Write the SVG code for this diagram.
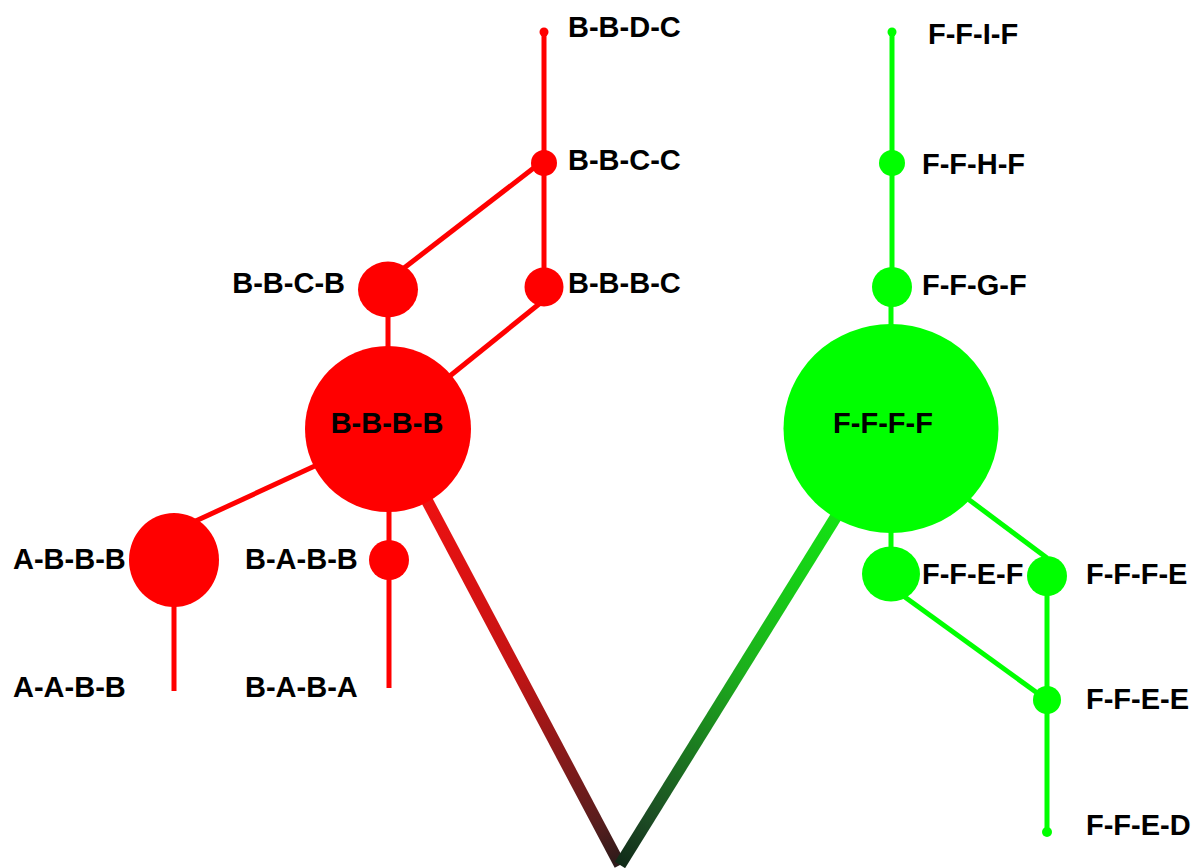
<svg xmlns="http://www.w3.org/2000/svg" width="1192" height="868" viewBox="0 0 1192 868">
  <style>
    .lbl { font-family: "Liberation Sans", Arial, sans-serif; font-weight: bold; font-size: 29px; fill: #000; }
    .mid { text-anchor: middle; }
    .end { text-anchor: end; }
    .r { fill: #ff0000; }
    .g { fill: #00ff00; }
    .er { stroke: #ff0000; stroke-width: 5; fill: none; }
    .eg { stroke: #00ff00; stroke-width: 5; fill: none; }
    .trunk { stroke-width: 12; fill: none; }
  </style>
  <defs>
    <linearGradient id="gradRed" gradientUnits="userSpaceOnUse" x1="388" y1="427" x2="620" y2="865">
      <stop offset="0" stop-color="#ff1010"/>
      <stop offset="0.55" stop-color="#c41414"/>
      <stop offset="0.9" stop-color="#5a1e1e"/>
      <stop offset="1" stop-color="#2a1a1a"/>
    </linearGradient>
    <linearGradient id="gradGreen" gradientUnits="userSpaceOnUse" x1="891" y1="428" x2="620" y2="865">
      <stop offset="0" stop-color="#10ff10"/>
      <stop offset="0.55" stop-color="#1cb01c"/>
      <stop offset="0.9" stop-color="#1c4a24"/>
      <stop offset="1" stop-color="#102a18"/>
    </linearGradient>
  </defs>
  <rect width="1192" height="868" fill="#ffffff"/>

  <g id="connectors">
    <!-- trunks joining the two clusters -->
    <line class="trunk" x1="388" y1="427" x2="620" y2="865" stroke="url(#gradRed)"/>
    <line class="trunk" x1="891" y1="428" x2="620" y2="865" stroke="url(#gradGreen)"/>
    <!-- red cluster -->
    <line class="er" x1="544" y1="32" x2="544" y2="163"/>
    <line class="er" x1="544" y1="163" x2="544" y2="287"/>
    <line class="er" x1="395" y1="275" x2="544" y2="160"/>
    <line class="er" x1="388" y1="289" x2="388" y2="427"/>
    <line class="er" x1="430" y1="392" x2="544" y2="300"/>
    <line class="er" x1="330" y1="459" x2="174" y2="531"/>
    <line class="er" x1="389" y1="427" x2="389" y2="560"/>
    <line class="er" x1="174" y1="560" x2="174" y2="691"/>
    <line class="er" x1="389" y1="560" x2="389" y2="688"/>
    <!-- green cluster -->
    <line class="eg" x1="892" y1="32" x2="892" y2="163"/>
    <line class="eg" x1="892" y1="163" x2="892" y2="287"/>
    <line class="eg" x1="891" y1="287" x2="891" y2="428"/>
    <line class="eg" x1="891" y1="428" x2="891" y2="574"/>
    <line class="eg" x1="960" y1="493" x2="1047" y2="558"/>
    <line class="eg" x1="891" y1="587" x2="1047" y2="700"/>
    <line class="eg" x1="1047" y1="576" x2="1047" y2="700"/>
    <line class="eg" x1="1047" y1="700" x2="1047" y2="832"/>
  </g>

  <!-- red nodes -->
  <g id="BBDC"><circle class="r" cx="544" cy="32" r="4.5"/><text class="lbl" x="568" y="37">B-B-D-C</text></g>
  <g id="BBCC"><circle class="r" cx="544" cy="163" r="13"/><text class="lbl" x="568" y="170">B-B-C-C</text></g>
  <g id="BBBC"><circle class="r" cx="544" cy="287" r="19.5"/><text class="lbl" x="568" y="293">B-B-B-C</text></g>
  <g id="BBCB"><ellipse class="r" cx="388" cy="289.5" rx="30" ry="28"/><text class="lbl end" x="345" y="293">B-B-C-B</text></g>
  <g id="BBBB"><circle class="r" cx="388" cy="429" r="83"/><text class="lbl mid" x="387" y="433">B-B-B-B</text></g>
  <g id="ABBB"><ellipse class="r" cx="174" cy="560" rx="45" ry="47"/><text class="lbl" x="13" y="569">A-B-B-B</text></g>
  <g id="BABB"><circle class="r" cx="389" cy="560" r="20"/><text class="lbl" x="245" y="569">B-A-B-B</text></g>
  <g id="AABB"><text class="lbl" x="13" y="697">A-A-B-B</text></g>
  <g id="BABA"><text class="lbl" x="245" y="697">B-A-B-A</text></g>

  <!-- green nodes -->
  <g id="FFIF"><circle class="g" cx="892" cy="32" r="4.5"/><text class="lbl" x="928" y="44">F-F-I-F</text></g>
  <g id="FFHF"><circle class="g" cx="892" cy="163" r="13"/><text class="lbl" x="922" y="174">F-F-H-F</text></g>
  <g id="FFGF"><circle class="g" cx="892" cy="287" r="20"/><text class="lbl" x="922" y="295">F-F-G-F</text></g>
  <g id="FFFF"><ellipse class="g" cx="891" cy="428.5" rx="107.5" ry="104.5"/><text class="lbl mid" x="883" y="433">F-F-F-F</text></g>
  <g id="FFEF"><ellipse class="g" cx="891" cy="574" rx="29" ry="27.5"/><text class="lbl" x="922" y="584">F-F-E-F</text></g>
  <g id="FFFE"><circle class="g" cx="1047" cy="576" r="20"/><text class="lbl" x="1086" y="584">F-F-F-E</text></g>
  <g id="FFEE"><circle class="g" cx="1047" cy="700" r="14"/><text class="lbl" x="1086" y="709">F-F-E-E</text></g>
  <g id="FFED"><circle class="g" cx="1047" cy="832" r="5"/><text class="lbl" x="1086" y="835">F-F-E-D</text></g>
</svg>
